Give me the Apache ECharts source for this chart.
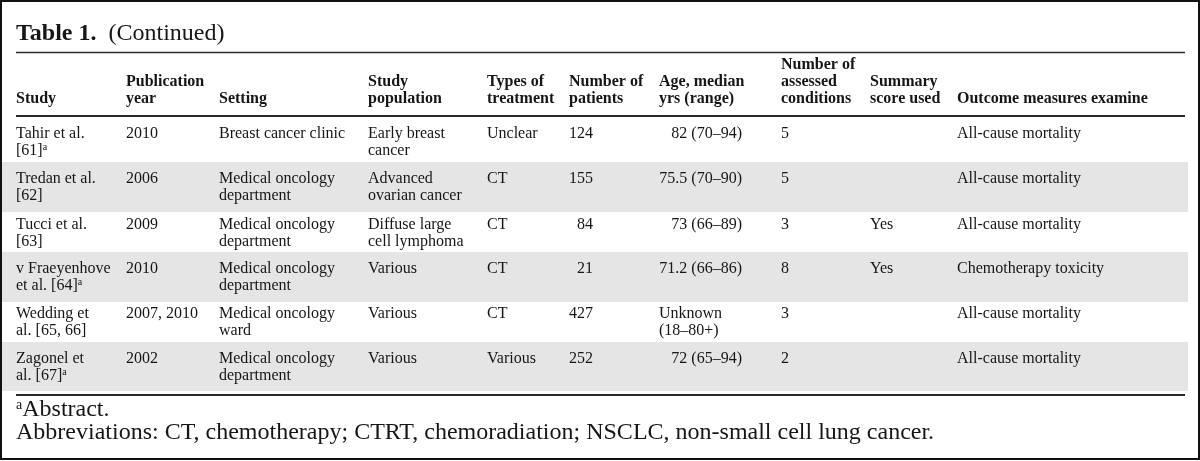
<!DOCTYPE html>
<html>
<head>
<meta charset="utf-8">
<script src="https://cdn.jsdelivr.net/npm/echarts@6/dist/echarts.min.js"></script>
<style>
html,body{margin:0;padding:0;background:#fff;}
#chart{width:1200px;height:461px;}
</style>
</head>
<body>
<div id="chart"></div>
<script>
// ---------------- DATA ----------------
const titleBold = "Table 1.";
const titleRest = "(Continued)";
const headers = ["Study", "Publication\nyear", "Setting", "Study\npopulation", "Types of\ntreatment",
  "Number of\npatients", "Age, median\nyrs (range)", "Number of\nassessed\nconditions",
  "Summary\nscore used", "Outcome measures examine"];
const studies = ["Tahir et al.\n[61]", "Tredan et al.\n[62]", "Tucci et al.\n[63]",
  "v Fraeyenhove\net al. [64]", "Wedding et\nal. [65, 66]", "Zagonel et\nal. [67]"];
const abstractOnly = [true, false, false, true, false, true];
const years = ["2010", "2006", "2009", "2010", "2007, 2010", "2002"];
const settings = ["Breast cancer clinic", "Medical oncology\ndepartment", "Medical oncology\ndepartment",
  "Medical oncology\ndepartment", "Medical oncology\nward", "Medical oncology\ndepartment"];
const populations = ["Early breast\ncancer", "Advanced\novarian cancer", "Diffuse large\ncell lymphoma",
  "Various", "Various", "Various"];
const treatments = ["Unclear", "CT", "CT", "CT", "CT", "Various"];
const patients = [124, 155, 84, 21, 427, 252];
const ages = ["82 (70–94)", "75.5 (70–90)", "73 (66–89)", "71.2 (66–86)", "Unknown\n(18–80+)", "72 (65–94)"];
const conditions = [5, 5, 3, 8, 3, 2];
const summaryScore = ["", "", "Yes", "Yes", "", ""];
const outcomes = ["All-cause mortality", "All-cause mortality", "All-cause mortality",
  "Chemotherapy toxicity", "All-cause mortality", "All-cause mortality"];
const footAbstract = "Abstract.";
const footAbbrev = "Abbreviations: CT, chemotherapy; CTRT, chemoradiation; NSCLC, non-small cell lung cancer.";

// ---------------- LAYOUT (not data) ----------------
const FONT = '"Liberation Serif", "Times New Roman", Times, serif';
const INK = '#161616';
const GREY = '#e5e5e5';
const colLeft = [16, 126, 219, 368, 487, 569, 659, 781, 870, 957];
const patientsRight = 593;
const ageRight = 742;
const headLineH = 17;
const bodyLineH = 16.5;
const headerBottom = 107.5;
const rowBaseline = [139.5, 184.5, 230.5, 274.5, 319.5, 364.5];
const bandEdges = [117, 162, 212, 252, 302, 342, 391];
const bandX = [2, 1188];
const ruleX = [16, 1185];
const rules = [[52.5, 1.6], [116, 2.2], [395, 2.2]];

const columns = [studies, years, settings, populations, treatments, patients, ages, conditions, summaryScore, outcomes];

const cellData = [];
for (let r = 0; r < studies.length; r++) {
  for (let c = 0; c < columns.length; c++) cellData.push([r, c]);
}

const chart = echarts.init(document.getElementById('chart'), null, {renderer: 'canvas'});

const option = {
  animation: false,
  backgroundColor: '#fff',
  grid: {left: 0, right: 0, top: 0, bottom: 0},
  xAxis: {type: 'value', min: 0, max: 1200, show: false},
  yAxis: {type: 'value', min: 0, max: 461, inverse: true, show: false},
  graphic: [
    {type: 'rect', shape: {x: 1, y: 1, width: 1198, height: 458}, style: {fill: 'none', stroke: '#111', lineWidth: 2}, z: 100},
    {type: 'text', x: 16, y: 33.6, style: {
      text: '{b|' + titleBold + '}{r|  ' + titleRest + '}', verticalAlign: 'middle', fill: INK,
      rich: {b: {fontFamily: FONT, fontSize: 24, fontWeight: 'bold', fill: INK},
             r: {fontFamily: FONT, fontSize: 24, fill: INK}}
    }, z: 100},
    {type: 'text', x: 16, y: 409.9, style: {
      text: '{s|a}{m|' + footAbstract + '}', verticalAlign: 'middle', fill: INK,
      rich: {s: {fontFamily: FONT, fontSize: 14, lineHeight: 9, verticalAlign: 'top', fill: INK},
             m: {fontFamily: FONT, fontSize: 24, lineHeight: 24, fill: INK}}
    }, z: 100},
    {type: 'text', x: 16, y: 432.9, style: {
      text: footAbbrev, verticalAlign: 'middle', fill: INK, fontFamily: FONT, fontSize: 24
    }, z: 100}
  ],
  series: [
    {
      type: 'custom', name: 'bands', coordinateSystem: 'cartesian2d', silent: true, clip: false, z: 1,
      data: studies.map((s, i) => [i, 0]),
      renderItem: function (params, api) {
        const i = api.value(0);
        if (i % 2 === 0) return {type: 'group', children: []};
        const p0 = api.coord([bandX[0], bandEdges[i]]);
        const p1 = api.coord([bandX[1], bandEdges[i + 1]]);
        return {type: 'rect', shape: {x: p0[0], y: p0[1], width: p1[0] - p0[0], height: p1[1] - p0[1]},
          style: {fill: GREY}};
      }
    },
    {
      type: 'custom', name: 'rules', coordinateSystem: 'cartesian2d', silent: true, clip: false, z: 2,
      data: rules.map((r, i) => [i, 0]),
      renderItem: function (params, api) {
        const r = rules[api.value(0)];
        const p0 = api.coord([ruleX[0], r[0]]);
        const p1 = api.coord([ruleX[1], r[0]]);
        return {type: 'line', shape: {x1: p0[0], y1: p0[1], x2: p1[0], y2: p1[1]},
          style: {stroke: '#2a2a2a', lineWidth: r[1]}};
      }
    },
    {
      type: 'custom', name: 'header', coordinateSystem: 'cartesian2d', silent: true, clip: false, z: 3,
      data: headers.map((h, i) => [i, 0]),
      renderItem: function (params, api) {
        const c = api.value(0);
        const p = api.coord([colLeft[c], headerBottom]);
        return {type: 'text', x: p[0], y: p[1], style: {
          text: headers[c], fill: INK, fontFamily: FONT, fontSize: 16, fontWeight: 'bold',
          lineHeight: headLineH, align: 'left', verticalAlign: 'bottom'}};
      }
    },
    {
      type: 'custom', name: 'cells', coordinateSystem: 'cartesian2d', silent: true, clip: false, z: 3,
      data: cellData,
      renderItem: function (params, api) {
        const r = api.value(0), c = api.value(1);
        let txt = String(columns[c][r]);
        if (!txt) return {type: 'group', children: []};
        let x = colLeft[c], align = 'left';
        if (c === 5) { x = patientsRight; align = 'right'; }
        if (c === 6 && /^[0-9]/.test(txt)) { x = ageRight; align = 'right'; }
        if (c === 0 && abstractOnly[r]) txt = txt + '{sup|a}';
        const p = api.coord([x, rowBaseline[r] - 13.6]);
        return {type: 'text', x: p[0], y: p[1], style: {
          text: txt, fill: INK, fontFamily: FONT, fontSize: 16, lineHeight: bodyLineH,
          align: align, verticalAlign: 'top',
          rich: {sup: {fontFamily: FONT, fontSize: 10, lineHeight: 5, verticalAlign: 'top', fill: INK}}
        }};
      }
    }
  ]
};
chart.setOption(option);
</script>
</body>
</html>
